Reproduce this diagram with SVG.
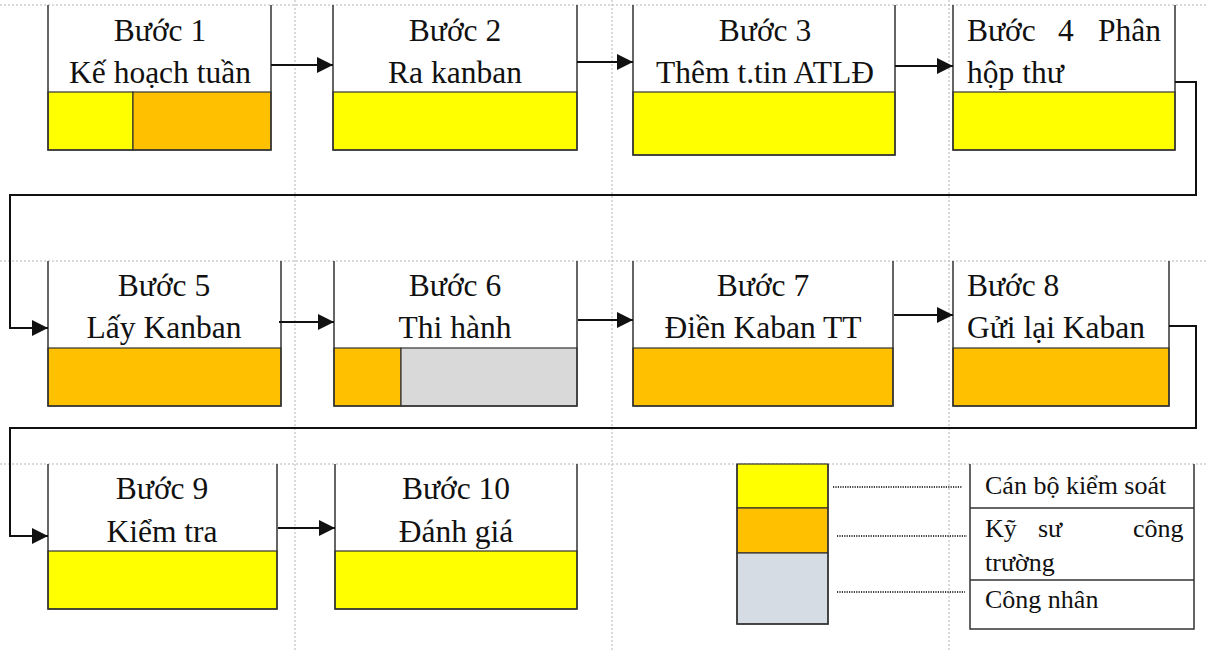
<svg xmlns="http://www.w3.org/2000/svg" width="1206" height="650" viewBox="0 0 1206 650">
  <style>
    .grid { stroke: #B5B5B5; stroke-width: 1; stroke-dasharray: 2 2; fill: none; }
    .frame { fill: none; stroke: #333333; stroke-width: 1.5; }
    .cell { stroke: #333333; stroke-width: 1.2; }
    .yel { fill: #FFFF00; }
    .org { fill: #FFC000; }
    .gry { fill: #D9D9D9; }
    .lgry { fill: #D6DCE4; }
    .link { fill: none; stroke: #111111; stroke-width: 2; }
    .lead { fill: none; stroke: #000000; stroke-width: 1.6; stroke-dasharray: 1.2 1.2; }
    .t { font-family: "Liberation Serif", "Times New Roman", serif; font-size: 31.5px; fill: #111111; }
    .tc { text-anchor: middle; }
    .lg { font-family: "Liberation Serif", "Times New Roman", serif; font-size: 26px; fill: #111111; }
  </style>
  <defs>
    <marker id="arrow" viewBox="0 0 16 16" refX="16" refY="8" markerWidth="16" markerHeight="16" markerUnits="userSpaceOnUse" orient="auto">
      <path d="M0,0 L16,8 L0,16 Z" fill="#111111"/>
    </marker>
  </defs>

  <rect width="1206" height="650" fill="#FFFFFF"/>

  <!-- page guides -->
  <g id="guides">
    <line class="grid" x1="0" y1="5" x2="1206" y2="5"/>
    <line class="grid" x1="0" y1="261" x2="1206" y2="261"/>
    <line class="grid" x1="0" y1="464" x2="1206" y2="464"/>
    <line class="grid" x1="295" y1="0" x2="295" y2="650"/>
    <line class="grid" x1="612" y1="0" x2="612" y2="650"/>
    <line class="grid" x1="949" y1="0" x2="949" y2="650"/>
  </g>

  <!-- row 1 -->
  <g id="step1">
    <rect class="cell yel" x="48" y="92" width="85" height="58"/>
    <rect class="cell org" x="133" y="92" width="138" height="58"/>
    <path class="frame" d="M48,5 V150 H271 V5"/>
    <text class="t tc" x="160" y="41">Bước 1</text>
    <text class="t tc" x="160" y="83">Kế hoạch tuần</text>
  </g>
  <g id="step2">
    <rect class="cell yel" x="333" y="92" width="244" height="58"/>
    <path class="frame" d="M333,5 V150 H577 V5"/>
    <text class="t tc" x="455" y="41">Bước 2</text>
    <text class="t tc" x="455" y="83">Ra kanban</text>
  </g>
  <g id="step3">
    <rect class="cell yel" x="633" y="92" width="262" height="63"/>
    <path class="frame" d="M633,5 V155 H895 V5"/>
    <text class="t tc" x="765" y="41">Bước 3</text>
    <text class="t tc" x="765" y="83">Thêm t.tin ATLĐ</text>
  </g>
  <g id="step4">
    <rect class="cell yel" x="953" y="92" width="222" height="58"/>
    <path class="frame" d="M953,5 V150 H1175 V5"/>
    <text class="t" y="41"><tspan x="967">Bước</tspan><tspan x="1058">4</tspan><tspan x="1098">Phân</tspan></text>
    <text class="t" x="967" y="83">hộp thư</text>
  </g>

  <!-- row 2 -->
  <g id="step5">
    <rect class="cell org" x="48" y="348" width="233" height="58"/>
    <path class="frame" d="M48,261 V406 H281 V261"/>
    <text class="t tc" x="164" y="296">Bước 5</text>
    <text class="t tc" x="164" y="338">Lấy Kanban</text>
  </g>
  <g id="step6">
    <rect class="cell org" x="334" y="348" width="67" height="58"/>
    <rect class="cell gry" x="401" y="348" width="176" height="58"/>
    <path class="frame" d="M334,261 V406 H577 V261"/>
    <text class="t tc" x="455" y="296">Bước 6</text>
    <text class="t tc" x="455" y="338">Thi hành</text>
  </g>
  <g id="step7">
    <rect class="cell org" x="633" y="348" width="260" height="58"/>
    <path class="frame" d="M633,261 V406 H893 V261"/>
    <text class="t tc" x="763" y="296">Bước 7</text>
    <text class="t tc" x="763" y="338">Điền Kaban TT</text>
  </g>
  <g id="step8">
    <rect class="cell org" x="953" y="348" width="216" height="58"/>
    <path class="frame" d="M953,261 V406 H1169 V261"/>
    <text class="t" x="967" y="296">Bước 8</text>
    <text class="t" x="967" y="338">Gửi lại Kaban</text>
  </g>

  <!-- row 3 -->
  <g id="step9">
    <rect class="cell yel" x="48" y="551" width="229" height="58"/>
    <path class="frame" d="M48,464 V609 H277 V464"/>
    <text class="t tc" x="162" y="499">Bước 9</text>
    <text class="t tc" x="162" y="542">Kiểm tra</text>
  </g>
  <g id="step10">
    <rect class="cell yel" x="335" y="551" width="242" height="58"/>
    <path class="frame" d="M335,464 V609 H577 V464"/>
    <text class="t tc" x="456" y="499">Bước 10</text>
    <text class="t tc" x="456" y="542">Đánh giá</text>
  </g>

  <!-- flow connectors -->
  <g id="connectors">
    <line class="link" x1="271" y1="65" x2="333" y2="65" marker-end="url(#arrow)"/>
    <line class="link" x1="577" y1="62" x2="633" y2="62" marker-end="url(#arrow)"/>
    <line class="link" x1="895" y1="66" x2="953" y2="66" marker-end="url(#arrow)"/>
    <polyline class="link" points="1175,82 1196,82 1196,195 10,195 10,328 48,328" marker-end="url(#arrow)"/>
    <line class="link" x1="279" y1="322" x2="334" y2="322" marker-end="url(#arrow)"/>
    <line class="link" x1="578" y1="320" x2="633" y2="320" marker-end="url(#arrow)"/>
    <line class="link" x1="894" y1="315" x2="953" y2="315" marker-end="url(#arrow)"/>
    <polyline class="link" points="1169,326 1196,326 1196,428 10,428 10,536 48,536" marker-end="url(#arrow)"/>
    <line class="link" x1="278" y1="528" x2="335" y2="528" marker-end="url(#arrow)"/>
  </g>

  <!-- role legend -->
  <g id="legend">
    <rect class="cell yel" x="737" y="464" width="91" height="44"/>
    <rect class="cell org" x="737" y="508" width="91" height="45"/>
    <rect class="cell lgry" x="737" y="553" width="91" height="71"/>
    <path class="frame" d="M737,464 V624 H828 V464"/>
    <line class="lead" x1="833" y1="487" x2="962" y2="487"/>
    <line class="lead" x1="837" y1="536" x2="967" y2="536"/>
    <line class="lead" x1="837" y1="592" x2="965" y2="592"/>
    <path class="frame" d="M970,464 V629 H1194 V464 M970,508 H1194 M970,580 H1194"/>
    <text class="lg" x="985" y="494">Cán bộ kiểm soát</text>
    <text class="lg" y="537"><tspan x="985">Kỹ</tspan><tspan x="1038">sư</tspan><tspan x="1133">công</tspan></text>
    <text class="lg" x="985" y="571">trường</text>
    <text class="lg" x="985" y="608">Công nhân</text>
  </g>
</svg>
